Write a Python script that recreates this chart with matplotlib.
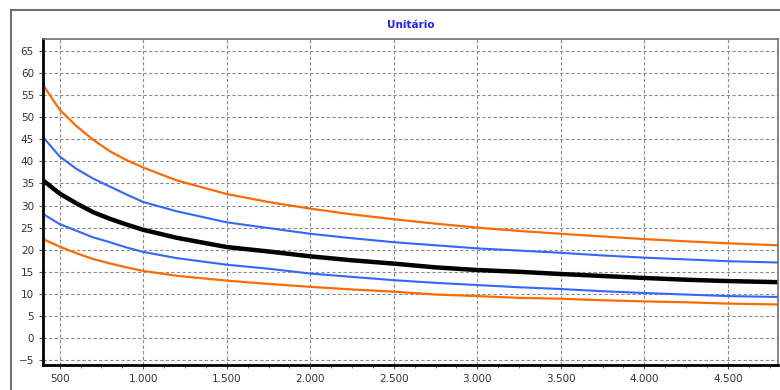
import matplotlib.pyplot as plt
from matplotlib.patches import Rectangle
from matplotlib.ticker import FuncFormatter, MultipleLocator

# values
x_vals = [400, 500, 600, 700, 800, 900, 1000, 1200, 1500, 1750, 2000, 2250,
          2500, 2750, 3000, 3250, 3500, 3750, 4000, 4250, 4500, 4800]
upper_orange = [57.3, 51.7, 48.0, 44.9, 42.3, 40.3, 38.6, 35.7, 32.6, 30.8, 29.3, 28.0,
                26.9, 25.9, 25.0, 24.25, 23.6, 23.0, 22.4, 21.9, 21.45, 21.0]
upper_blue = [45.5, 41.1, 38.3, 36.1, 34.3, 32.5, 30.8, 28.7, 26.2, 24.9, 23.6, 22.6,
              21.7, 21.0, 20.3, 19.8, 19.3, 18.7, 18.2, 17.8, 17.4, 17.1]
central = [35.7, 32.7, 30.5, 28.5, 27.0, 25.7, 24.5, 22.7, 20.6, 19.6, 18.5, 17.6,
           16.85, 16.0, 15.4, 15.0, 14.5, 14.05, 13.6, 13.2, 12.9, 12.65]
lower_blue = [28.1, 25.8, 24.3, 22.8, 21.7, 20.5, 19.5, 18.1, 16.6, 15.7, 14.6, 13.85,
              13.1, 12.5, 12.0, 11.5, 11.1, 10.6, 10.2, 9.85, 9.5, 9.3]
lower_orange = [22.4, 20.7, 19.2, 17.9, 16.9, 16.0, 15.2, 14.1, 13.0, 12.25, 11.6, 11.0,
                10.5, 9.85, 9.5, 9.1, 8.9, 8.55, 8.3, 8.1, 7.8, 7.6]

title = "Unitário"
orange = "#ff6a00"
blue = "#3366ff"

fig = plt.figure(figsize=(7.8, 3.9), dpi=100)
fig.patch.set_facecolor("white")

# outer panel frame
fig.patches.append(Rectangle((11 / 780, -0.05), 1.0, 1 - 10 / 390 + 0.05,
                             transform=fig.transFigure, fill=False,
                             edgecolor="#707070", linewidth=1.5))

ax = fig.add_axes([43 / 780, 25 / 390, 735 / 780, 326 / 390])

ax.plot(x_vals, upper_orange, color=orange, lw=1.6)
ax.plot(x_vals, upper_blue, color=blue, lw=1.5)
ax.plot(x_vals, central, color="black", lw=3.2)
ax.plot(x_vals, lower_blue, color=blue, lw=1.5)
ax.plot(x_vals, lower_orange, color=orange, lw=1.6)

ax.set_xlim(400, 4800)
ax.set_ylim(-6.1, 67.7)
ax.xaxis.set_major_locator(MultipleLocator(500))
ax.xaxis.set_minor_locator(MultipleLocator(125))
ax.yaxis.set_major_locator(MultipleLocator(5))
ax.xaxis.set_major_formatter(FuncFormatter(lambda v, p: f"{int(v):,}".replace(",", ".")))

ax.grid(True, which="major", color="#8c8c8c", linestyle=(0, (3, 2)), linewidth=0.8)
ax.tick_params(axis="both", which="major", labelsize=7.5, labelcolor="#333333",
               length=3, color="#555555")
ax.tick_params(axis="x", which="minor", length=2, color="#555555")

ax.spines["left"].set_linewidth(2)
ax.spines["bottom"].set_linewidth(2)
ax.spines["left"].set_color("black")
ax.spines["bottom"].set_color("black")
for s in ["top", "right"]:
    ax.spines[s].set_color("#707070")
    ax.spines[s].set_linewidth(1.2)

fig.text(0.5 * (43 + 778) / 780, 1 - 25 / 390, title, color="#2020ff",
         fontsize=7.5, fontweight="bold", ha="center", va="center")

plt.savefig("out.png", dpi=100)
plt.close()
